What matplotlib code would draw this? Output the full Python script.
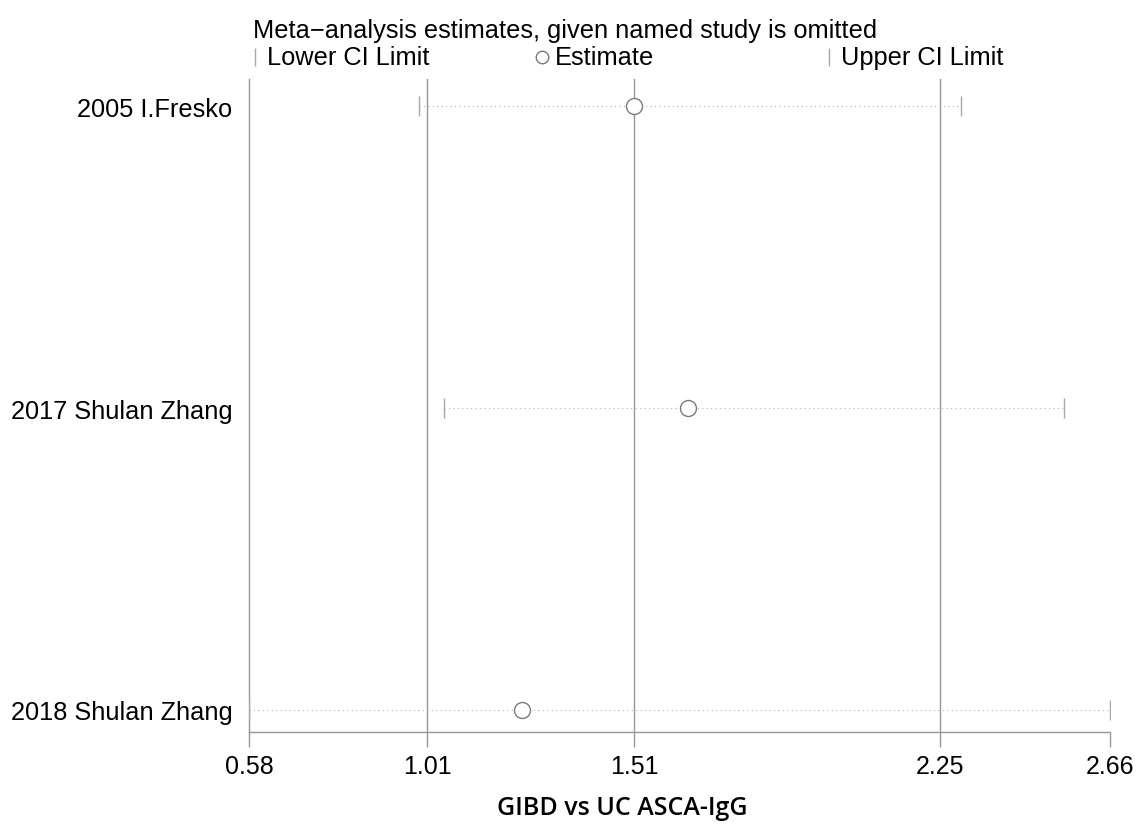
import matplotlib.pyplot as plt
from matplotlib.lines import Line2D

# studies omitted, one row each
studies = ['2005 I.Fresko', '2017 Shulan Zhang', '2018 Shulan Zhang']
lower_ci = [0.99, 1.05, 0.58]
estimate = [1.51, 1.64, 1.24]
upper_ci = [2.30, 2.55, 2.66]

tick_vals = [0.58, 1.01, 1.51, 2.25, 2.66]
tick_labels = ['0.58', '1.01', '1.51', '2.25', '2.66']
ref_lines = [1.01, 1.51, 2.25]

plt.rcParams['font.family'] = ['Liberation Sans', 'DejaVu Sans']

line_col = '#9c9593'
fig = plt.figure(figsize=(11.45, 8.28), dpi=100)
ax = fig.add_axes([249 / 1145, 1 - 733 / 828, (1110 - 249) / 1145, (733 - 80) / 828])

rows = list(range(1, len(studies) + 1))

for x in ref_lines:
    ax.axvline(x, color=line_col, lw=1.0, zorder=1)

for y, lo, est, hi in zip(rows, lower_ci, estimate, upper_ci):
    ax.plot([lo, hi], [y, y], color='#b5b5b5', lw=0.8, ls=(0, (1, 3)), zorder=2)
    ax.plot([lo], [y], marker='|', ms=14, mew=1.0, color='#a8a8a8', zorder=3)
    ax.plot([hi], [y], marker='|', ms=14, mew=1.0, color='#a8a8a8', zorder=3)
    ax.plot([est], [y], marker='o', ms=11.5, mfc='white', mec='#7a7a7a', mew=1.0, zorder=4)

ax.set_xlim(tick_vals[0], tick_vals[-1])
ax.set_ylim(3.073, 0.91)
ax.set_xticks(tick_vals)
ax.set_xticklabels(tick_labels, fontsize=18)
ax.set_yticks(rows)
ax.set_yticklabels(studies, fontsize=18.3)
ax.tick_params(axis='x', direction='out', length=11, width=1.0, color=line_col, pad=5)
ax.tick_params(axis='y', length=0, pad=12)

for s in ['top', 'right']:
    ax.spines[s].set_visible(False)
for s in ['left', 'bottom']:
    ax.spines[s].set_color(line_col)
    ax.spines[s].set_linewidth(1.0)

ax.set_xlabel('GIBD vs UC ASCA-IgG', family='Open Sans', fontweight='semibold',
              fontsize=18, va='center')
ax.xaxis.set_label_coords((622 - 249) / (1110 - 249), -(809 - 733) / (733 - 80))

# header and legend row
fig.text(253 / 1145, 1 - 31 / 828, 'Meta\u2212analysis estimates, given named study is omitted',
         fontsize=18.3, va='center', ha='left')
leg_y = 1 - 58 / 828
fig.add_artist(Line2D([255 / 1145], [leg_y], marker='|', ms=13, mew=1.0, color='#a8a8a8'))
fig.text(267 / 1145, leg_y, 'Lower CI Limit', fontsize=18.3, va='center', ha='left')
fig.add_artist(Line2D([542 / 1145], [leg_y], marker='o', ms=9, mfc='white',
                      mec='#7a7a7a', mew=1.0))
fig.text(555 / 1145, leg_y, 'Estimate', fontsize=18.3, va='center', ha='left')
fig.add_artist(Line2D([829 / 1145], [leg_y], marker='|', ms=13, mew=1.0, color='#a8a8a8'))
fig.text(841 / 1145, leg_y, 'Upper CI Limit', fontsize=18.3, va='center', ha='left')

fig.savefig('out.png', dpi=100)
